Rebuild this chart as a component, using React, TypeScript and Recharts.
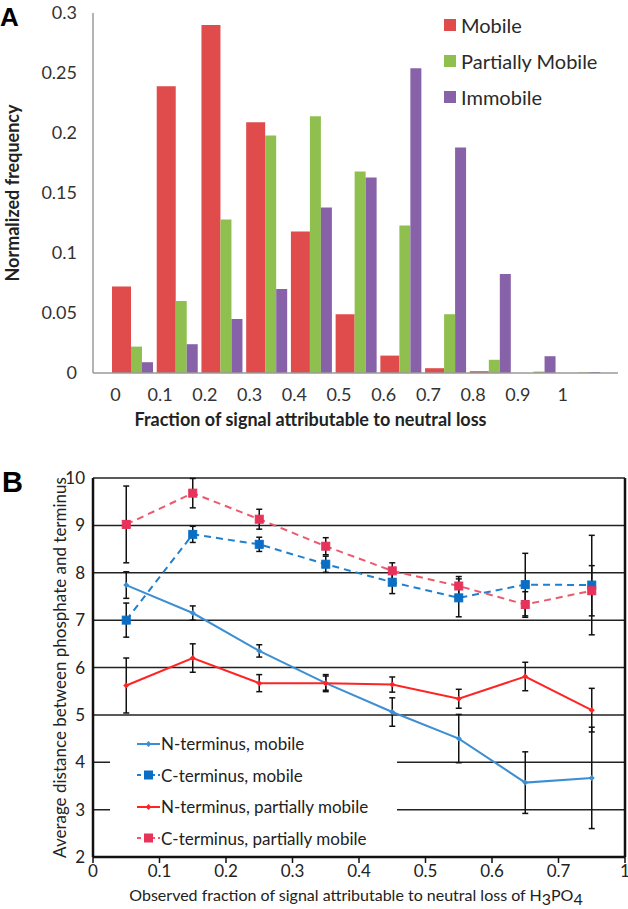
import React from 'react'
import {
  BarChart,
  Bar,
  LineChart,
  Line,
  XAxis,
  YAxis,
  CartesianGrid,
  Legend,
  ErrorBar,
  ReferenceLine,
} from 'recharts'

// panel A - histogram of neutral loss fraction
const bins = ['0', '0.1', '0.2', '0.3', '0.4', '0.5', '0.6', '0.7', '0.8', '0.9', '1']
const mobile = [0.072, 0.239, 0.29, 0.209, 0.118, 0.049, 0.0145, 0.004, 0.0015, 0, 0]
const partiallyMobile = [0.022, 0.06, 0.128, 0.198, 0.214, 0.168, 0.123, 0.049, 0.011, 0.0012, 0.0005]
const immobile = [0.009, 0.024, 0.045, 0.07, 0.138, 0.163, 0.254, 0.188, 0.0825, 0.014, 0.0008]
const freqTicks = [0, 0.05, 0.1, 0.15, 0.2, 0.25, 0.3]

// panel B - distance vs observed fraction
const fractions = [0.05, 0.15, 0.25, 0.35, 0.45, 0.55, 0.65, 0.75]
const nMobile = [7.74, 7.15, 6.35, 5.67, 5.06, 4.5, 3.57, 3.67]
const nMobileErr = [0.28, 0.15, 0.13, 0.18, 0.3, 0.51, 0.65, 1.07]
const cMobile = [7.0, 8.81, 8.6, 8.18, 7.8, 7.47, 7.75, 7.74]
const cMobileErr = [0.36, 0.17, 0.15, 0.17, 0.24, 0.4, 0.66, 1.05]
const nPartial = [5.62, 6.2, 5.67, 5.67, 5.64, 5.34, 5.81, 5.1]
const nPartialErr = [0.58, 0.3, 0.18, 0.15, 0.16, 0.2, 0.3, 0.46]
const cPartial = [9.02, 9.68, 9.13, 8.56, 8.04, 7.72, 7.33, 7.62]
const cPartialErr = [0.81, 0.31, 0.21, 0.18, 0.17, 0.2, 0.27, 0.53]
const fractionTicks = [0, 0.1, 0.2, 0.3, 0.4, 0.5, 0.6, 0.7, 0.8]
const fractionTickLabels = ['0', '0.1', '0.2', '0.3', '0.4', '0.5', '0.6', '0.7', '1']
const distanceTicks = [2, 3, 4, 5, 6, 7, 8, 9, 10]

const histData = bins.map((bin, i) => ({
  bin,
  mobile: mobile[i],
  partial: partiallyMobile[i],
  immobile: immobile[i],
}))

const distData = fractions.map((x, i) => ({
  x,
  nMobile: nMobile[i],
  nMobileErr: nMobileErr[i],
  cMobile: cMobile[i],
  cMobileErr: cMobileErr[i],
  nPartial: nPartial[i],
  nPartialErr: nPartialErr[i],
  cPartial: cPartial[i],
  cPartialErr: cPartialErr[i],
}))

const barSeries = [
  { key: 'mobile', name: 'Mobile', color: '#e04b4b', size: 19 },
  { key: 'partial', name: 'Partially Mobile', color: '#8fc04f', size: 11 },
  { key: 'immobile', name: 'Immobile', color: '#8862a8', size: 11 },
]

type Marker = 'diamond' | 'square'
const lineSeries: { key: string; name: string; color: string; dot: string; dash?: string; marker: Marker }[] = [
  { key: 'nMobile', name: 'N-terminus, mobile', color: '#3c8fd2', dot: '#3c8fd2', marker: 'diamond' },
  { key: 'cMobile', name: 'C-terminus, mobile', color: '#1f80cf', dot: '#0a6fc4', dash: '7 5', marker: 'square' },
  { key: 'nPartial', name: 'N-terminus, partially mobile', color: '#ff2424', dot: '#ff2424', marker: 'diamond' },
  { key: 'cPartial', name: 'C-terminus, partially mobile', color: '#ea5a6c', dot: '#e8325a', dash: '7 5', marker: 'square' },
]

function markerShape(kind: Marker, color: string, cx: number, cy: number, key?: string | number) {
  if (kind === 'square') {
    return <rect key={key} x={cx - 4} y={cy - 4} width={8} height={8} fill={color} stroke={color} strokeWidth={1} />
  }
  const r = 3
  return <path key={key} d={`M${cx},${cy - r}L${cx + r},${cy}L${cx},${cy + r}L${cx - r},${cy}Z`} fill={color} />
}

const BarLegend = () => (
  <div style={{ fontSize: 20, color: '#2a2a2a' }}>
    {barSeries.map((s) => (
      <div key={s.key} style={{ display: 'flex', alignItems: 'center', height: 36 }}>
        <span style={{ width: 12, height: 12, background: s.color, marginRight: 5 }} />
        {s.name}
      </div>
    ))}
  </div>
)

const LineLegend = () => (
  <div style={{ fontSize: 17, color: '#222', background: '#fff', height: '100%', paddingLeft: 27, boxSizing: 'border-box' }}>
    {lineSeries.map((s) => (
      <div key={s.key} style={{ display: 'flex', alignItems: 'center', height: 31.5 }}>
        <svg width={23} height={12} style={{ marginRight: 1 }}>
          <line x1={0} y1={6} x2={23} y2={6} stroke={s.color} strokeWidth={2} strokeDasharray={s.dash ? '4 3' : undefined} />
          {markerShape(s.marker, s.dot, 11.5, 6)}
        </svg>
        {s.name}
      </div>
    ))}
  </div>
)

const xLabelB = (props: any) => {
  const vb = props.viewBox || { x: 93, y: 857, width: 532, height: 52 }
  return (
    <text x={vb.x + vb.width / 2 - 3} y={vb.y + 44} textAnchor="middle" fontSize={16} fill="#222">
      Observed fraction of signal attributable to neutral loss of H
      <tspan dy={4}>3</tspan>
      <tspan dy={-4}>PO</tspan>
      <tspan dy={4}>4</tspan>
    </text>
  )
}

export default function App() {
  return (
    <div style={{ position: 'absolute', left: 0, top: 0, width: 628, height: 909, background: '#fff', fontFamily: 'Lato' }}>
      <div style={{ position: 'absolute', left: 0, top: 4, fontSize: 26, fontWeight: 'bold', lineHeight: 1, fontFamily: 'Liberation Sans' }}>A</div>
      <div style={{ position: 'absolute', left: 2, top: 468, fontSize: 29, fontWeight: 'bold', lineHeight: 1, fontFamily: 'Liberation Sans' }}>B</div>

      <div style={{ position: 'absolute', left: 0, top: 0 }}>
        <BarChart width={628} height={430} data={histData} margin={{ top: 13, right: 10, bottom: 0, left: 0 }} barGap={0}>
          <XAxis
            dataKey="bin"
            height={57}
            padding={{ left: 17, right: 16 }}
            axisLine={{ stroke: '#9a9a9a', strokeWidth: 1.5 }}
            tickLine={false}
            tickMargin={9}
            interval={0}
            tick={(p: any) => (
              <text x={p.x - 17} y={p.y} dy="0.71em" textAnchor="middle" fontSize={18} fill="#333">
                {p.payload.value}
              </text>
            )}
            label={{
              value: 'Fraction of signal attributable to neutral loss',
              position: 'insideBottom',
              offset: 4,
              dx: -45,
              style: { fontWeight: 'bold', fontSize: 18, fill: '#222' },
            }}
          />
          <YAxis
            width={93}
            domain={[0, 0.3]}
            ticks={freqTicks}
            interval={0}
            axisLine={{ stroke: '#9a9a9a', strokeWidth: 1.5 }}
            tickLine={false}
            tickMargin={10}
            tick={{ fontSize: 18, fill: '#333' }}
            label={{
              value: 'Normalized frequency',
              angle: -90,
              position: 'insideLeft',
              offset: 13,
              style: { textAnchor: 'middle', fontWeight: 'bold', fontSize: 18, fill: '#222' },
            }}
          />
          <Legend
            layout="vertical"
            align="center"
            verticalAlign="middle"
            content={() => <BarLegend />}
            wrapperStyle={{ left: 444, top: 7, width: 184 }}
          />
          {barSeries.map((s) => (
            <Bar key={s.key} dataKey={s.key} name={s.name} fill={s.color} barSize={s.size} isAnimationActive={false} />
          ))}
        </BarChart>
      </div>

      <div style={{ position: 'absolute', left: 0, top: 430 }}>
        <LineChart width={628} height={479} data={distData} margin={{ top: 48, right: 3, bottom: 0, left: 0 }}>
          <CartesianGrid vertical={false} stroke="#222" strokeWidth={1.5} />
          <XAxis
            type="number"
            dataKey="x"
            domain={[0, 0.8]}
            ticks={fractionTicks}
            interval={0}
            height={52}
            axisLine={{ stroke: '#111', strokeWidth: 2.5 }}
            tickLine={{ stroke: '#111', strokeWidth: 1.5 }}
            tickSize={6}
            tick={{ fontSize: 17, fill: '#222' }}
            tickFormatter={(v: number, i: number) => fractionTickLabels[i] ?? String(v)}
            label={xLabelB}
          />
          <YAxis
            width={93}
            domain={[2, 10]}
            ticks={distanceTicks}
            interval={0}
            axisLine={{ stroke: '#111', strokeWidth: 2.5 }}
            tickLine={false}
            tick={{ fontSize: 17, fill: '#222' }}
            label={{
              value: 'Average distance between phosphate and terminus',
              angle: -90,
              position: 'insideLeft',
              offset: 60,
              style: { textAnchor: 'middle', fontSize: 17, fill: '#222' },
            }}
          />
          <ReferenceLine x={0.8} stroke="#111" strokeWidth={2.5} />
          <Legend
            layout="vertical"
            align="center"
            verticalAlign="middle"
            content={() => <LineLegend />}
            wrapperStyle={{ left: 110, top: 298, width: 287, height: 127 }}
          />
          {lineSeries.map((s) => (
            <Line
              key={s.key}
              dataKey={s.key}
              name={s.name}
              stroke={s.color}
              strokeWidth={2}
              strokeDasharray={s.dash}
              dot={(p: any) => markerShape(s.marker, s.dot, p.cx, p.cy, `${s.key}-${p.index}`)}
              activeDot={false}
              isAnimationActive={false}
            >
              <ErrorBar dataKey={`${s.key}Err`} width={3} stroke="#111" strokeWidth={1.5} direction="y" isAnimationActive={false} />
            </Line>
          ))}
        </LineChart>
      </div>
    </div>
  )
}
